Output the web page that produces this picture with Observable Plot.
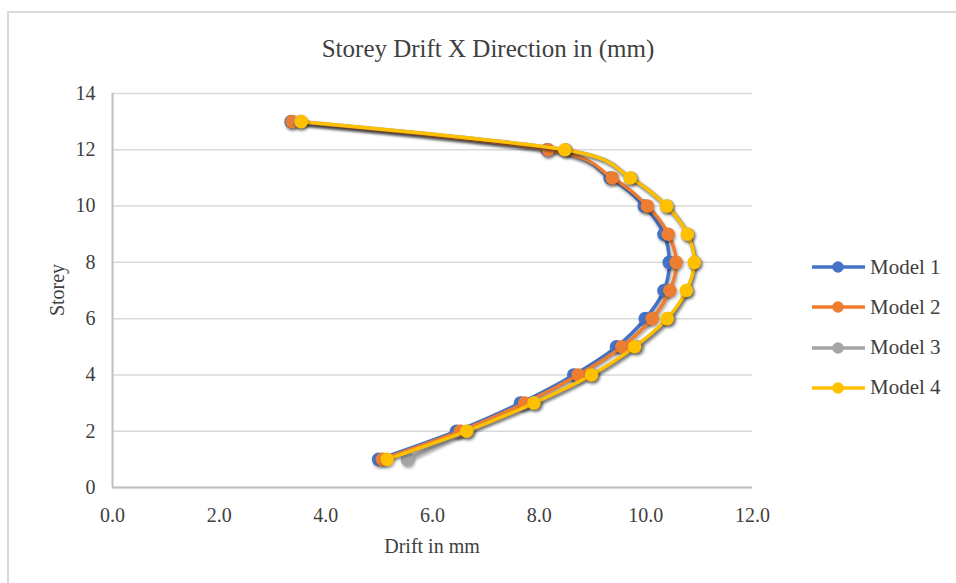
<!DOCTYPE html>
<html>
<head>
<meta charset="utf-8">
<script src="https://cdn.jsdelivr.net/npm/d3@7"></script>
<script src="https://cdn.jsdelivr.net/npm/@observablehq/plot@0.6"></script>
<style>
  html, body { margin: 0; padding: 0; background: #fff; overflow: hidden; }
  #wrap { position: relative; width: 956px; height: 583px; overflow: hidden; font-family: "Liberation Serif", "Times New Roman", serif; color: #404040; }
  #border { position: absolute; left: 7px; top: 11px; width: 1000px; height: 700px; border: 2px solid #d9d9d9; box-sizing: border-box; }
  #chart { position: absolute; left: 0; top: 0; }
  #title { position: absolute; left: 0; width: 976px; top: 36px; text-align: center; font-size: 25px; line-height: 25px; color: #404040; white-space: nowrap; }
  #xlabel { position: absolute; left: 232px; width: 400px; top: 536px; text-align: center; font-size: 20px; line-height: 20px; color: #404040; }
  #ylabel { position: absolute; left: -43px; width: 200px; top: 280px; text-align: center; font-size: 20px; line-height: 20px; transform: rotate(-90deg); transform-origin: 100px 10px; color: #404040; }
  .leg { position: absolute; left: 811px; height: 24px; display: flex; align-items: center; font-size: 21px; color: #404040; white-space: nowrap; }
  .leg svg { margin-right: 5px; }
  #chart g[aria-label="line"], #chart g[aria-label="dot"] { filter: drop-shadow(1px 2px 1.5px rgba(0,0,0,0.35)); }
</style>
</head>
<body>
<div id="wrap">
  <div id="border"></div>
  <div id="chart"></div>
  <div id="title">Storey Drift X Direction in (mm)</div>
  <div id="xlabel">Drift in mm</div>
  <div id="ylabel">Storey</div>
</div>
<script>
const storeys = [1, 2, 3, 4, 5, 6, 7, 8, 9, 10, 11, 12, 13];
const model1 = [4.99, 6.45, 7.65, 8.65, 9.45, 9.99, 10.34, 10.44, 10.34, 9.97, 9.33, 8.15, 3.35];
const model2 = [5.06, 6.52, 7.73, 8.73, 9.55, 10.12, 10.45, 10.57, 10.42, 10.03, 9.37, 8.17, 3.37];
const model3 = [5.53, 6.67, 7.93, 9.00, 9.83, 10.43, 10.78, 10.92, 10.79, 10.40, 9.72, 8.50, 3.52];
const model4 = [5.15, 6.64, 7.90, 8.98, 9.79, 10.40, 10.76, 10.91, 10.78, 10.39, 9.71, 8.48, 3.54];
const modelNames = ["Model 1", "Model 2", "Model 3", "Model 4"];
const modelColors = ["#4472C4", "#ED7D31", "#A5A5A5", "#FFC000"];
const xTicks = [0, 2, 4, 6, 8, 10, 12];
const yTicks = [0, 2, 4, 6, 8, 10, 12, 14];

const series = [model1, model2, model3, model4];
const rows = series.flatMap((vals, i) => vals.map((v, j) => ({model: modelNames[i], drift: v, storey: storeys[j]})));

const marks = [
  Plot.gridY(yTicks, {stroke: "#d9d9d9", strokeOpacity: 1, strokeWidth: 1.5}),
  Plot.ruleY([0], {stroke: "#bfbfbf", strokeWidth: 2}),
  Plot.ruleX([0], {stroke: "#bfbfbf", strokeWidth: 2}),
  Plot.axisX(xTicks, {tickSize: 0, tickPadding: 20, tickFormat: d => d.toFixed(1), fontSize: 20, fill: "#404040", label: null}),
  Plot.axisY(yTicks, {tickSize: 0, tickPadding: 17, fontSize: 20, fill: "#404040", label: null})
];
modelNames.forEach((name, i) => {
  const d = rows.filter(r => r.model === name);
  marks.push(Plot.line(d, {x: "drift", y: "storey", stroke: modelColors[i], strokeWidth: 3.5, curve: "catmull-rom", tension: 0}));
  marks.push(Plot.dot(d, {x: "drift", y: "storey", fill: modelColors[i], r: 6.8}));
});

const chart = Plot.plot({
  width: 956,
  height: 583,
  marginLeft: 112,
  marginRight: 204,
  marginTop: 93,
  marginBottom: 96,
  style: {fontFamily: "'Liberation Serif', 'Times New Roman', serif", background: "transparent", overflow: "visible"},
  x: {domain: [0, 12], label: null},
  y: {domain: [0, 14], label: null},
  marks
});
document.getElementById("chart").appendChild(chart);

const wrap = document.getElementById("wrap");
modelNames.forEach((name, i) => {
  const div = document.createElement("div");
  div.className = "leg";
  div.style.top = (267 + i * 40.3 - 12) + "px";
  div.innerHTML = `<svg width="54" height="14"><line x1="1" x2="54" y1="7" y2="7" stroke="${modelColors[i]}" stroke-width="3.5"/><circle cx="27" cy="7" r="5.8" fill="${modelColors[i]}"/></svg><span></span>`;
  div.querySelector("span").textContent = name;
  wrap.appendChild(div);
});
</script>
</body>
</html>
